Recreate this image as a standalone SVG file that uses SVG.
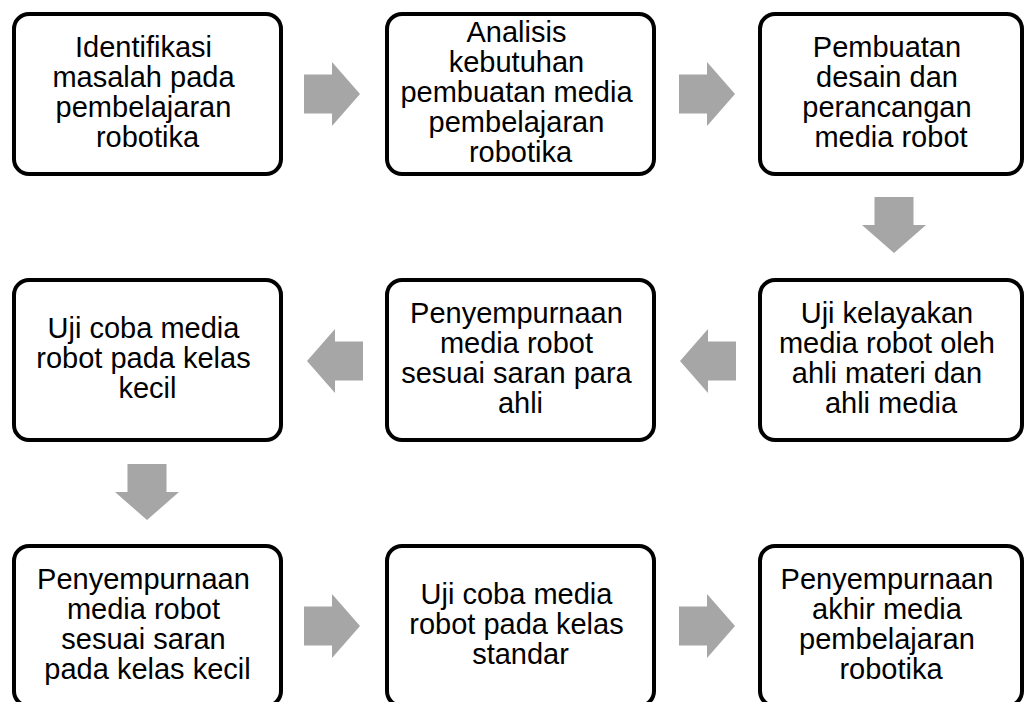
<svg xmlns="http://www.w3.org/2000/svg" xmlns:xlink="http://www.w3.org/1999/xlink" width="1027" height="702" viewBox="0 0 1027 702">
  <style>
    .box { fill: #ffffff; stroke: #000000; stroke-width: 4; }
    .label { font-family: "Liberation Sans", Arial, sans-serif; font-size: 29px; fill: #000000; text-anchor: middle; }
    .arrow { fill: #A6A6A6; stroke: none; }
  </style>
  <defs>
    <!-- block arrow pointing right, centred on the origin -->
    <path id="blockArrow" class="arrow" d="M-28,-19.5 H0 V-32 L28,0 L0,32 V19.5 H-28 Z"/>
  </defs>
  <rect width="1027" height="702" fill="#ffffff"/>

  <!-- connectors -->
  <g id="connectors">
    <use xlink:href="#blockArrow" transform="translate(332,94)"/>
    <use xlink:href="#blockArrow" transform="translate(707,94)"/>
    <use xlink:href="#blockArrow" transform="translate(894,225) rotate(90)"/>
    <use xlink:href="#blockArrow" transform="translate(708,361) rotate(180)"/>
    <use xlink:href="#blockArrow" transform="translate(335,361) rotate(180)"/>
    <use xlink:href="#blockArrow" transform="translate(147,492) rotate(90)"/>
    <use xlink:href="#blockArrow" transform="translate(332,626)"/>
    <use xlink:href="#blockArrow" transform="translate(707,626)"/>
  </g>

  <!-- row 1 -->
  <g id="step1">
    <rect class="box" x="14" y="14" width="267" height="160" rx="15"/>
    <text class="label">
      <tspan x="147.5" y="57">Identifikasi</tspan>
      <tspan x="147.5" y="87">masalah pada</tspan>
      <tspan x="147.5" y="117">pembelajaran</tspan>
      <tspan x="147.5" y="147">robotika</tspan>
    </text>
  </g>
  <g id="step2">
    <rect class="box" x="387" y="14" width="267" height="160" rx="15"/>
    <text class="label">
      <tspan x="520.5" y="42">Analisis</tspan>
      <tspan x="520.5" y="72">kebutuhan</tspan>
      <tspan x="520.5" y="102">pembuatan media</tspan>
      <tspan x="520.5" y="132">pembelajaran</tspan>
      <tspan x="520.5" y="162">robotika</tspan>
    </text>
  </g>
  <g id="step3">
    <rect class="box" x="760" y="14" width="262" height="160" rx="15"/>
    <text class="label">
      <tspan x="891" y="57">Pembuatan</tspan>
      <tspan x="891" y="87">desain dan</tspan>
      <tspan x="891" y="117">perancangan</tspan>
      <tspan x="891" y="147">media robot</tspan>
    </text>
  </g>

  <!-- row 2 -->
  <g id="step4">
    <rect class="box" x="760" y="280" width="262" height="160" rx="15"/>
    <text class="label">
      <tspan x="891" y="323">Uji kelayakan</tspan>
      <tspan x="891" y="353">media robot oleh</tspan>
      <tspan x="891" y="383">ahli materi dan</tspan>
      <tspan x="891" y="413">ahli media</tspan>
    </text>
  </g>
  <g id="step5">
    <rect class="box" x="387" y="280" width="267" height="160" rx="15"/>
    <text class="label">
      <tspan x="520.5" y="323">Penyempurnaan</tspan>
      <tspan x="520.5" y="353">media robot</tspan>
      <tspan x="520.5" y="383">sesuai saran para</tspan>
      <tspan x="520.5" y="413">ahli</tspan>
    </text>
  </g>
  <g id="step6">
    <rect class="box" x="14" y="280" width="267" height="160" rx="15"/>
    <text class="label">
      <tspan x="147.5" y="338">Uji coba media</tspan>
      <tspan x="147.5" y="368">robot pada kelas</tspan>
      <tspan x="147.5" y="398">kecil</tspan>
    </text>
  </g>

  <!-- row 3 -->
  <g id="step7">
    <rect class="box" x="14" y="546" width="267" height="160" rx="15"/>
    <text class="label">
      <tspan x="147.5" y="589">Penyempurnaan</tspan>
      <tspan x="147.5" y="619">media robot</tspan>
      <tspan x="147.5" y="649">sesuai saran</tspan>
      <tspan x="147.5" y="679">pada kelas kecil</tspan>
    </text>
  </g>
  <g id="step8">
    <rect class="box" x="387" y="546" width="267" height="160" rx="15"/>
    <text class="label">
      <tspan x="520.5" y="604">Uji coba media</tspan>
      <tspan x="520.5" y="634">robot pada kelas</tspan>
      <tspan x="520.5" y="664">standar</tspan>
    </text>
  </g>
  <g id="step9">
    <rect class="box" x="760" y="546" width="262" height="160" rx="15"/>
    <text class="label">
      <tspan x="891" y="589">Penyempurnaan</tspan>
      <tspan x="891" y="619">akhir media</tspan>
      <tspan x="891" y="649">pembelajaran</tspan>
      <tspan x="891" y="679">robotika</tspan>
    </text>
  </g>
</svg>
